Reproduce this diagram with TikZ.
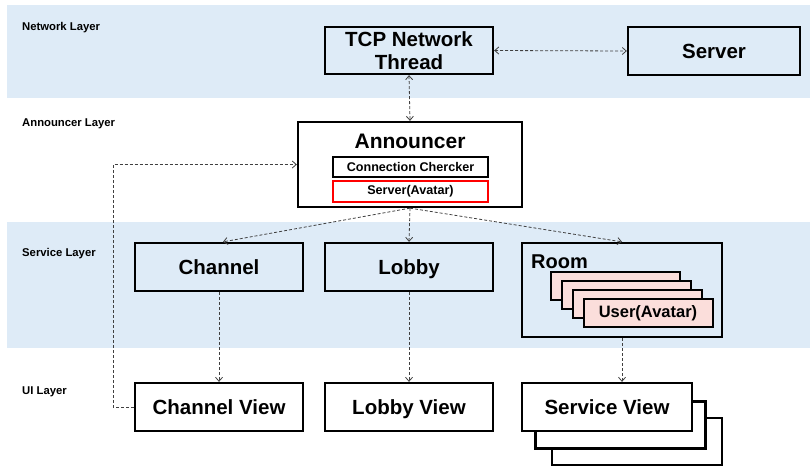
\documentclass[tikz,border=0pt]{standalone}
\usepackage{fontspec}
\setmainfont{Liberation Sans}
\usetikzlibrary{arrows.meta}
\definecolor{bandblue}{HTML}{DEEBF7}
\definecolor{userpink}{HTML}{FBDEDB}
\definecolor{linkgray}{HTML}{404040}

\begin{document}
\begin{tikzpicture}[x=1pt,y=-1pt,
  box/.style={draw=black, line width=2.3pt, inner sep=0pt, align=center,
    font=\bfseries\fontsize{20.5}{23.5}\selectfont},
  oneline/.style={text height=14.8pt, text depth=0.6pt},
  bluebox/.style={box, fill=bandblue},
  whitebox/.style={box, fill=white},
  smallbox/.style={draw=black, line width=2pt, fill=white, inner sep=0pt,
    minimum width=155pt, minimum height=20pt,
    font=\bfseries\fontsize{12.6}{14}\selectfont},
  userbox/.style={draw=black, line width=2pt, fill=userpink, inner sep=0pt,
    minimum width=129pt, minimum height=28pt,
    font=\bfseries\fontsize{16.5}{18}\selectfont},
  layerlabel/.style={anchor=west, inner sep=0pt, font=\bfseries\fontsize{11.3}{13}\selectfont},
  link/.style={draw=linkgray, line width=0.8pt, dash pattern=on 3pt off 2pt,
    -{Straight Barb[length=4pt,width=7pt]}},
  twolink/.style={link, {Straight Barb[length=4pt,width=7pt]}-{Straight Barb[length=4pt,width=7pt]}}
]
\useasboundingbox (0,0) rectangle (810,466);

% layer bands
\fill[bandblue] (7,5) rectangle (810,98);
\fill[bandblue] (7,222) rectangle (810,348);

% layer names
\node[layerlabel] (lnet) at (22,27.5) {Network Layer};
\node[layerlabel] (lann) at (22,124) {Announcer Layer};
\node[layerlabel] (lsvc) at (22,254) {Service Layer};
\node[layerlabel] (lui) at (22,392) {UI Layer};

% network layer
\node[bluebox, minimum width=168pt, minimum height=47pt] (tcp) at (409,50.5) {TCP Network\\Thread};
\node[bluebox, oneline, minimum width=172pt, minimum height=48pt] (server) at (714,51) {Server};

% announcer layer
\node[whitebox, minimum width=224pt, minimum height=85pt] (ann) at (410,164.5) {};
\node[inner sep=0pt, font=\bfseries\fontsize{21}{24}\selectfont] (anntitle) at (410,141) {Announcer};
\node[smallbox] (checker) at (410.5,167) {Connection Chercker};
\node[smallbox, draw=red, minimum height=21pt] (srvavatar) at (410.5,191.5) {Server(Avatar)};

% service layer
\node[bluebox, oneline, minimum width=168pt, minimum height=48pt] (channel) at (219,267) {Channel};
\node[bluebox, oneline, minimum width=168pt, minimum height=48pt] (lobby) at (409,267) {Lobby};
\node[bluebox, minimum width=200pt, minimum height=94pt] (room) at (622,290) {};
\node[anchor=north west, inner sep=0pt, font=\bfseries\fontsize{20}{22}\selectfont] (roomtitle) at (531,255) {Room};
\node[userbox] (user1) at (615.5,286) {};
\node[userbox] (user2) at (626.5,295) {};
\node[userbox] (user3) at (637.5,304) {};
\node[userbox] (user4) at (648,313) {User(Avatar)};

% UI layer
\node[whitebox, oneline, minimum width=168pt, minimum height=48pt] (chview) at (219,407) {Channel View};
\node[whitebox, oneline, minimum width=168pt, minimum height=48pt] (lbview) at (409,407) {Lobby View};
\node[whitebox, minimum width=170pt, minimum height=47pt] (svview3) at (637,441.5) {};
\node[whitebox, minimum width=170pt, minimum height=47pt] (svview2) at (620.5,425) {};
\node[whitebox, oneline, minimum width=170pt, minimum height=48pt] (svview) at (607,407) {Service View};

% connectors
\draw[twolink] (tcp.east) -- (server.west);
\draw[twolink] (tcp.south) -- (ann.north);
\draw[link] (ann.south) -- ([xshift=4pt]channel.north);
\draw[link] (ann.south) -- (lobby.north);
\draw[link] (ann.south) -- (room.north);
\draw[link] (channel.south) -- (chview.north);
\draw[link] (lobby.south) -- (lbview.north);
\draw[link] (room.south) -- (room.south |- svview.north);
\coordinate (loop) at (113,164.5);
\draw[link] (chview.west) -| (loop) -- (ann.west);
\end{tikzpicture}
\end{document}
